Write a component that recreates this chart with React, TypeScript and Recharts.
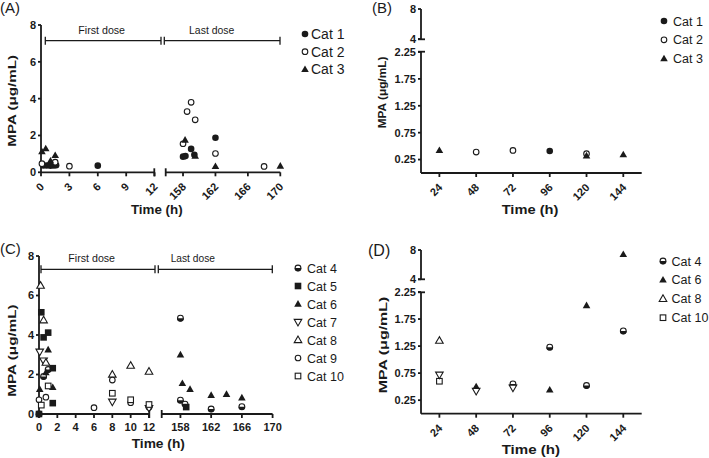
import React from 'react';
import { ScatterChart, Scatter, XAxis, YAxis, Legend } from 'recharts';

const FONT = '"Liberation Sans", Arial, Helvetica, sans-serif';
const INK = '#1a1a1a';

type Pt = { t: number; v: number };
type Kind = 'dot' | 'ring' | 'tri' | 'triO' | 'triDO' | 'sq' | 'sqO' | 'half';
type Ser = { name: string; kind: Kind; data: Pt[]; noLegend?: boolean };

// (A) cats 1-3, first dose and last dose
const aCat1: Pt[] = [
  { t: 0.25, v: 0.37 }, { t: 0.6, v: 0.37 }, { t: 1, v: 0.36 }, { t: 1.35, v: 0.37 },
  { t: 1.6, v: 0.38 }, { t: 6, v: 0.36 }, { t: 158, v: 0.85 }, { t: 158.3, v: 0.88 },
  { t: 159, v: 1.27 }, { t: 159.4, v: 0.95 }, { t: 162, v: 1.88 },
];
const aCat2: Pt[] = [
  { t: 0.1, v: 0.47 }, { t: 1.5, v: 0.55 }, { t: 3, v: 0.33 }, { t: 158, v: 1.55 },
  { t: 158.5, v: 3.3 }, { t: 159, v: 3.8 }, { t: 159.5, v: 2.85 }, { t: 162, v: 1.02 },
  { t: 168, v: 0.32 },
];
const aCat3: Pt[] = [
  { t: 0.1, v: 1.12 }, { t: 0.5, v: 1.28 }, { t: 1, v: 0.62 }, { t: 1.5, v: 0.92 },
  { t: 158.25, v: 1.75 }, { t: 159.5, v: 0.88 }, { t: 162, v: 0.32 }, { t: 170, v: 0.34 },
];

// (B) cats 1-3, daily trough
const bCat1: Pt[] = [{ t: 96, v: 0.41 }];
const bCat2: Pt[] = [{ t: 48, v: 0.39 }, { t: 72, v: 0.42 }, { t: 120, v: 0.36 }];
const bCat3: Pt[] = [{ t: 24, v: 0.42 }, { t: 120, v: 0.32 }, { t: 144, v: 0.34 }];

// (C) cats 4-10, first dose and last dose
const cCat4: Pt[] = [
  { t: 0, v: 0 }, { t: 0.5, v: 1.9 }, { t: 1, v: 2.25 }, { t: 12, v: 0.35 }, { t: 158, v: 4.85 },
  { t: 158, v: 0.7 }, { t: 158.6, v: 0.5 }, { t: 162, v: 0.25 }, { t: 166, v: 0.37 },
];
const cCat5: Pt[] = [
  { t: 0, v: 0 }, { t: 0.25, v: 5.15 }, { t: 0.5, v: 3.88 }, { t: 1, v: 4.12 },
  { t: 1.5, v: 2.32 }, { t: 1.5, v: 0.55 }, { t: 158.75, v: 0.35 },
];
const cCat6: Pt[] = [
  { t: 0.08, v: 1.25 }, { t: 0.75, v: 2.1 }, { t: 1, v: 3.25 }, { t: 1.5, v: 1.35 },
  { t: 158, v: 3.0 }, { t: 158.25, v: 1.55 }, { t: 159.25, v: 1.25 }, { t: 162, v: 0.95 },
  { t: 164, v: 1.0 }, { t: 166, v: 0.82 },
];
const cCat7: Pt[] = [{ t: 0.08, v: 3.15 }, { t: 0.5, v: 2.7 }, { t: 8, v: 0.62 }, { t: 12, v: 0.3 }];
const cCat8: Pt[] = [
  { t: 0.17, v: 6.5 }, { t: 0.5, v: 4.75 }, { t: 0.75, v: 2.6 }, { t: 8, v: 2.0 },
  { t: 10, v: 2.45 }, { t: 12, v: 2.15 },
];
const cCat9: Pt[] = [{ t: 0, v: 0.72 }, { t: 0.75, v: 0.85 }, { t: 6, v: 0.32 }, { t: 8, v: 1.72 }, { t: 10, v: 0.57 }];
const cCat10: Pt[] = [{ t: 0.25, v: 0.45 }, { t: 1, v: 1.42 }, { t: 8, v: 1.05 }, { t: 10, v: 0.72 }, { t: 12, v: 0.48 }];

// (D) cats 4-10, daily trough
const dCat4: Pt[] = [{ t: 72, v: 0.55 }, { t: 96, v: 1.23 }, { t: 120, v: 0.52 }, { t: 144, v: 1.53 }];
const dCat6: Pt[] = [{ t: 48, v: 0.5 }, { t: 96, v: 0.44 }, { t: 120, v: 2.0 }, { t: 144, v: 7.4 }];
const dCat7: Pt[] = [{ t: 24, v: 0.72 }, { t: 48, v: 0.42 }, { t: 72, v: 0.48 }];
const dCat8: Pt[] = [{ t: 24, v: 1.35 }];
const dCat10: Pt[] = [{ t: 24, v: 0.6 }];

const doseTicksA = [0, 3, 6, 9, 12];
const doseTicksC = [0, 2, 4, 6, 8, 10, 12];
const lastTicks = [158, 162, 166, 170];
const dayTicks = [24, 48, 72, 96, 120, 144];
const concTicks = [0, 2, 4, 6, 8];
const lowTicks = [0.25, 0.75, 1.25, 1.75, 2.25];
const highTicks = [4, 8];

const serA: Ser[] = [
  { name: 'Cat 1', kind: 'dot', data: aCat1 },
  { name: 'Cat 2', kind: 'ring', data: aCat2 },
  { name: 'Cat 3', kind: 'tri', data: aCat3 },
];
const serB: Ser[] = [
  { name: 'Cat 1', kind: 'dot', data: bCat1 },
  { name: 'Cat 2', kind: 'ring', data: bCat2 },
  { name: 'Cat 3', kind: 'tri', data: bCat3 },
];
const serC: Ser[] = [
  { name: 'Cat 4', kind: 'half', data: cCat4 },
  { name: 'Cat 5', kind: 'sq', data: cCat5 },
  { name: 'Cat 6', kind: 'tri', data: cCat6 },
  { name: 'Cat 7', kind: 'triDO', data: cCat7 },
  { name: 'Cat 8', kind: 'triO', data: cCat8 },
  { name: 'Cat 9', kind: 'ring', data: cCat9 },
  { name: 'Cat 10', kind: 'sqO', data: cCat10 },
];
const serD: Ser[] = [
  { name: 'Cat 4', kind: 'half', data: dCat4 },
  { name: 'Cat 6', kind: 'tri', data: dCat6 },
  { name: 'Cat 8', kind: 'triO', data: dCat8 },
  { name: 'Cat 10', kind: 'sqO', data: dCat10 },
  { name: 'Cat 7', kind: 'triDO', data: dCat7, noLegend: true },
];

function Mark({ kind, cx, cy }: { kind: Kind; cx: number; cy: number }) {
  const r = 3.3;
  const sw = 1.1;
  const up = `${cx},${cy - r * 1.2} ${cx - r * 1.15},${cy + r * 0.8} ${cx + r * 1.15},${cy + r * 0.8}`;
  const down = `${cx},${cy + r * 1.2} ${cx - r * 1.15},${cy - r * 0.8} ${cx + r * 1.15},${cy - r * 0.8}`;
  switch (kind) {
    case 'dot':
      return <circle cx={cx} cy={cy} r={r} fill={INK} />;
    case 'ring':
      return <circle cx={cx} cy={cy} r={r - 0.5} fill="#fff" stroke={INK} strokeWidth={sw} />;
    case 'tri':
      return <polygon points={up} fill={INK} />;
    case 'triO':
      return <polygon points={up} fill="#fff" stroke={INK} strokeWidth={sw} />;
    case 'triDO':
      return <polygon points={down} fill="#fff" stroke={INK} strokeWidth={sw} />;
    case 'sq':
      return <rect x={cx - r} y={cy - r} width={2 * r} height={2 * r} fill={INK} />;
    case 'sqO':
      return <rect x={cx - r + 0.5} y={cy - r + 0.5} width={2 * r - 1} height={2 * r - 1} fill="#fff" stroke={INK} strokeWidth={sw} />;
    case 'half':
      return (
        <g>
          <circle cx={cx} cy={cy} r={r - 0.4} fill="#fff" stroke={INK} strokeWidth={sw} />
          <path d={`M${cx - r},${cy} A${r},${r} 0 0 0 ${cx + r},${cy} Z`} fill={INK} />
        </g>
      );
  }
  return null;
}

const RotTick = (p: any) => (
  <text
    transform={`translate(${p.x + 1},${p.y + 6.5}) rotate(-45)`}
    textAnchor="end"
    dy="0.35em"
    fontSize={11}
    fontWeight={700}
    fontFamily={FONT}
    fill={INK}
  >
    {p.payload.value}
  </text>
);

type LegendCfg = { x: number; y: number; gap: number; dx: number; fs: number; room: number };

function LegendBox({ items, cfg }: { items: Ser[]; cfg: LegendCfg }) {
  return (
    <svg width={90} height={items.length * cfg.gap + 10} style={{ overflow: 'visible' }}>
      {items.map((s, i) => (
        <g key={s.name}>
          <Mark kind={s.kind} cx={6} cy={8 + i * cfg.gap} />
          <text x={6 + cfg.dx} y={8 + i * cfg.gap} dy="0.36em" fontSize={cfg.fs} fontFamily={FONT} fill={INK}>
            {s.name}
          </text>
        </g>
      ))}
    </svg>
  );
}

type SegProps = {
  x0: number; x1: number; y0: number; y1: number;
  xDomain: [number, number]; yDomain: [number, number];
  xTicks?: number[]; yTicks?: number[];
  showX: boolean; showY: boolean; rot?: boolean;
  series: Ser[]; keep: (d: Pt) => boolean;
  legend?: LegendCfg;
};

function Seg({ x0, x1, y0, y1, xDomain, yDomain, xTicks, yTicks, showX, showY, rot, series, keep, legend }: SegProps) {
  const padL = showY ? 40 : 10;
  const padT = 10;
  const padB = showX ? 45 : 10;
  const padR = legend ? legend.room : 10;
  const W = padL + (x1 - x0) + padR;
  const H = padT + (y1 - y0) + padB;
  const left = x0 - padL;
  const top = y0 - padT;
  const line = { stroke: INK, strokeWidth: 1.8 };
  const tickStyle = { fontSize: 11, fontWeight: 700, fontFamily: FONT, fill: INK };
  // the short upper piece of a broken y axis may hold no points at all
  const fixY = !showX;
  return (
    <div style={{ position: 'absolute', left, top }}>
      <ScatterChart
        width={W}
        height={H}
        margin={{ top: padT, right: padR, bottom: showX ? 0 : padB, left: showY ? 0 : padL }}
      >
        <XAxis
          type="number"
          dataKey="t"
          domain={xDomain}
          ticks={xTicks}
          interval={0}
          allowDataOverflow={fixY}
          hide={!showX}
          height={padB}
          tickSize={4}
          tickMargin={rot ? 2 : 5}
          axisLine={line}
          tickLine={line}
          tick={rot ? RotTick : tickStyle}
        />
        <YAxis
          type="number"
          dataKey="v"
          domain={yDomain}
          ticks={yTicks}
          interval={0}
          allowDataOverflow={fixY}
          hide={!showY}
          width={padL}
          tickSize={3}
          tickMargin={2}
          axisLine={line}
          tickLine={line}
          tick={tickStyle}
        />
        {series.map((s) => (
          <Scatter
            key={s.name}
            name={s.name}
            data={s.data.filter(keep)}
            legendType={s.noLegend ? 'none' : 'circle'}
            isAnimationActive={false}
            shape={(p: any) => <Mark kind={s.kind} cx={p.cx} cy={p.cy} />}
          />
        ))}
        {legend && (
          <Legend
            layout="vertical"
            align="center"
            verticalAlign="middle"
            wrapperStyle={{ position: 'absolute', left: legend.x - 6 - left, top: legend.y - 8 - top, width: 90, height: 'auto', margin: 0 }}
            content={() => <LegendBox items={series.filter((s) => !s.noLegend)} cfg={legend} />}
          />
        )}
      </ScatterChart>
    </div>
  );
}

const early = (d: Pt) => d.t <= 12;
const late = (d: Pt) => d.t > 100;
const low = (d: Pt) => d.v < 3;
const high = (d: Pt) => d.v >= 4;

function Bracket({ a, b, y }: { a: number; b: number; y: number }) {
  return (
    <g stroke={INK} strokeWidth={1.3}>
      <line x1={a} x2={b} y1={y} y2={y} />
      <line x1={a} x2={a} y1={y - 4} y2={y + 4} />
      <line x1={b} x2={b} y1={y - 4} y2={y + 4} />
    </g>
  );
}

function Overlay() {
  const t = { fontFamily: FONT, fill: INK };
  const yLab = (cx: number, cy: number, len: number) => (
    <text
      transform={`translate(${cx},${cy}) rotate(-90)`}
      textAnchor="middle"
      dominantBaseline="central"
      fontSize={11.5}
      fontWeight={700}
      textLength={len}
      lengthAdjust="spacingAndGlyphs"
      {...t}
    >
      MPA (μg/mL)
    </text>
  );
  const xLab = (cx: number, base: number, len: number) => (
    <text x={cx} y={base} textAnchor="middle" fontSize={13} fontWeight={700} textLength={len} lengthAdjust="spacingAndGlyphs" {...t}>
      Time (h)
    </text>
  );
  const vBar = (x: number, y: number) => <line x1={x} x2={x} y1={y - 4} y2={y + 4} stroke={INK} strokeWidth={1.8} />;
  const hBar = (x: number, y: number) => <line x1={x - 3} x2={x + 4} y1={y} y2={y} stroke={INK} strokeWidth={1.8} />;
  return (
    <svg width={709} height={458} style={{ position: 'absolute', left: 0, top: 0, pointerEvents: 'none' }}>
      <text x={0} y={13} fontSize={15} {...t}>(A)</text>
      <text x={372} y={13} fontSize={15} {...t}>(B)</text>
      <text x={0} y={254} fontSize={15} {...t}>(C)</text>
      <text x={368} y={256} fontSize={16} {...t}>(D)</text>

      <Bracket a={45.3} b={161} y={40.7} />
      <Bracket a={164.3} b={280} y={40.7} />
      <text x={101.7} y={34} textAnchor="middle" fontSize={10.5} textLength={46.7} lengthAdjust="spacingAndGlyphs" {...t}>First dose</text>
      <text x={211.7} y={34} textAnchor="middle" fontSize={10.5} textLength={45.3} lengthAdjust="spacingAndGlyphs" {...t}>Last dose</text>

      <Bracket a={41} b={155} y={269.3} />
      <Bracket a={158.3} b={272.3} y={269.3} />
      <text x={91.7} y={262.3} textAnchor="middle" fontSize={10.5} textLength={46.7} lengthAdjust="spacingAndGlyphs" {...t}>First dose</text>
      <text x={192.8} y={262.3} textAnchor="middle" fontSize={10.5} textLength={44.3} lengthAdjust="spacingAndGlyphs" {...t}>Last dose</text>

      {vBar(154.3, 172.3)}
      {vBar(165.7, 172.3)}
      {vBar(149.3, 414)}
      {vBar(161.7, 414)}
      {hBar(421, 39.3)}
      {hBar(421, 51.7)}
      {hBar(421, 279.3)}
      {hBar(421, 292.3)}

      {yLab(11.7, 100.8, 91.7)}
      {yLab(381.7, 92.5, 71.7)}
      {yLab(11.7, 350.5, 92.3)}
      {yLab(383.3, 345, 96.7)}

      {xLab(156.8, 213.5, 51.7)}
      {xLab(530, 213.5, 56.7)}
      {xLab(158.3, 447.5, 53.3)}
      {xLab(530.8, 454, 58.3)}
    </svg>
  );
}

export default function App() {
  return (
    <div style={{ position: 'absolute', left: 0, top: 0, width: 709, height: 458, background: '#fff', overflow: 'hidden' }}>
      {/* (A) */}
      <Seg x0={40.7} x1={154.3} y0={25} y1={172.3} xDomain={[0, 12]} yDomain={[0, 8]}
        xTicks={doseTicksA} yTicks={concTicks} showX showY rot series={serA} keep={early} />
      <Seg x0={165.7} x1={280} y0={25} y1={172.3} xDomain={[155.9, 170]} yDomain={[0, 8]}
        xTicks={lastTicks} showX showY={false} rot series={serA} keep={late}
        legend={{ x: 305, y: 34.3, gap: 17.7, dx: 6, fs: 14, room: 90 }} />

      {/* (B) */}
      <Seg x0={421} x1={641.7} y0={9.3} y1={39.3} xDomain={[12, 156]} yDomain={[4, 8]}
        yTicks={highTicks} showX={false} showY series={serB} keep={high} />
      <Seg x0={421} x1={641.7} y0={51.7} y1={172.7} xDomain={[12, 156]} yDomain={[0, 2.25]}
        xTicks={dayTicks} yTicks={lowTicks} showX showY rot series={serB} keep={low}
        legend={{ x: 664, y: 20.7, gap: 18.8, dx: 9, fs: 12.5, room: 68 }} />

      {/* (C) */}
      <Seg x0={39.3} x1={149.3} y0={256} y1={414} xDomain={[0, 12]} yDomain={[0, 8]}
        xTicks={doseTicksC} yTicks={concTicks} showX showY series={serC} keep={early} />
      <Seg x0={161.7} x1={272.3} y0={256} y1={414} xDomain={[155.6, 170]} yDomain={[0, 8]}
        xTicks={lastTicks} showX showY={false} series={serC} keep={late}
        legend={{ x: 297.7, y: 267.7, gap: 18, dx: 9, fs: 12.5, room: 90 }} />

      {/* (D) */}
      <Seg x0={421} x1={641.7} y0={250} y1={279.3} xDomain={[12, 156]} yDomain={[4, 8]}
        yTicks={highTicks} showX={false} showY series={serD} keep={high} />
      <Seg x0={421} x1={641.7} y0={292.3} y1={414} xDomain={[12, 156]} yDomain={[0, 2.25]}
        xTicks={dayTicks} yTicks={lowTicks} showX showY rot series={serD} keep={low}
        legend={{ x: 663.3, y: 261, gap: 18.9, dx: 8.5, fs: 12.5, room: 68 }} />

      <Overlay />
    </div>
  );
}
